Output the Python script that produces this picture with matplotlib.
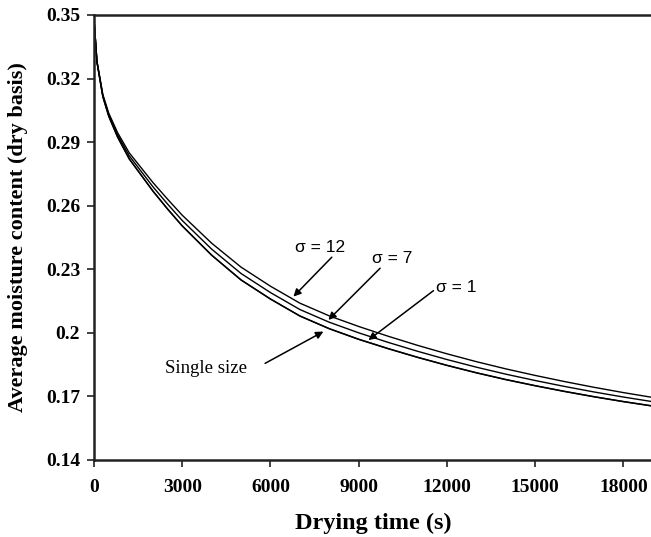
import matplotlib
matplotlib.use("Agg")
import matplotlib.pyplot as plt

# Drying time (s)
time_s = [0, 100, 300, 500, 800, 1200, 2000, 2500, 3000, 4000, 5000, 6000, 7000,
          8000, 9000, 10000, 11000, 12000, 13000, 14000, 15000, 16000, 17000,
          18000, 19000]

# Average moisture content (dry basis) for each particle size distribution
sigma_12 = [0.348, 0.3282, 0.3125, 0.3037, 0.2945, 0.2849, 0.2710, 0.2631, 0.2555,
            0.2423, 0.2310, 0.2220, 0.2140, 0.2080, 0.2030, 0.1984, 0.1941, 0.1901,
            0.1864, 0.1830, 0.1799, 0.1770, 0.1743, 0.1718, 0.1695]
sigma_7 = [0.348, 0.3280, 0.3120, 0.3030, 0.2935, 0.2835, 0.2690, 0.2608, 0.2530,
           0.2395, 0.2280, 0.2190, 0.2110, 0.2050, 0.2000, 0.1955, 0.1913, 0.1874,
           0.1838, 0.1805, 0.1775, 0.1747, 0.1721, 0.1697, 0.1675]
sigma_1 = [0.348, 0.3278, 0.3115, 0.3023, 0.2925, 0.2821, 0.2670, 0.2585, 0.2505,
           0.2367, 0.2250, 0.2160, 0.2080, 0.2020, 0.1970, 0.1926, 0.1885, 0.1847,
           0.1812, 0.1780, 0.1751, 0.1724, 0.1699, 0.1676, 0.1655]
single_size = [0.348, 0.3278, 0.3114, 0.3022, 0.2924, 0.2820, 0.2669, 0.2584, 0.2504,
               0.2366, 0.2249, 0.2159, 0.2079, 0.2019, 0.1969, 0.1925, 0.1884, 0.1846,
               0.1811, 0.1779, 0.1750, 0.1723, 0.1698, 0.1675, 0.1654]

x_ticks = [0, 3000, 6000, 9000, 12000, 15000, 18000]
x_tick_labels = ["0", "3000", "6000", "9000", "12000", "15000", "18000"]
y_ticks = [0.14, 0.17, 0.20, 0.23, 0.26, 0.29, 0.32, 0.35]
y_tick_labels = ["0.14", "0.17", "0.2", "0.23", "0.26", "0.29", "0.32", "0.35"]

serif = ["Liberation Serif", "DejaVu Serif"]
sans = ["Liberation Sans", "DejaVu Sans"]

fig = plt.figure(figsize=(6.51, 5.37), dpi=100)
ax = fig.add_axes([0.1444, 0.1434, 0.8585, 0.8287])

for series in (sigma_12, sigma_7, sigma_1, single_size):
    ax.plot(time_s, series, color="black", lw=1.0)

ax.set_xlim(0, 19000)
ax.set_ylim(0.14, 0.35)
ax.set_xticks(x_ticks)
ax.set_xticklabels(x_tick_labels)
ax.set_yticks(y_ticks)
ax.set_yticklabels(y_tick_labels)

for lab in ax.get_xticklabels() + ax.get_yticklabels():
    lab.set_fontfamily(serif)
    lab.set_fontweight("bold")
    lab.set_fontsize(14)

ax.tick_params(axis="both", direction="out", length=5, width=1.2, colors="#222222",
               labelcolor="black")
ax.tick_params(axis="x", pad=9)
ax.tick_params(axis="y", pad=5)

for side in ("left", "bottom", "top"):
    ax.spines[side].set_linewidth(1.8)
    ax.spines[side].set_color("#222222")
ax.spines["right"].set_visible(False)

ax.set_xlabel("Drying time (s)", fontfamily=serif, fontweight="bold", fontsize=17.5)
ax.set_ylabel("Average moisture content (dry basis)", fontfamily=serif,
              fontweight="bold", fontsize=16)
ax.xaxis.set_label_coords(0.5, -0.118)
ax.yaxis.set_label_coords(-0.118, 0.5)

# Annotation arrows pointing at each curve
arrow_style = dict(arrowstyle="-|>", color="black", lw=1.1, mutation_scale=11,
                   shrinkA=0, shrinkB=0)
arrows = [
    ((8084, 0.2357), (6779, 0.2171)),
    ((9727, 0.2305), (7969, 0.2061)),
    ((11540, 0.2199), (9329, 0.1966)),
    ((5816, 0.1856), (7799, 0.2006)),
]
for start, tip in arrows:
    ax.annotate("", xy=tip, xytext=start, arrowprops=arrow_style)

ax.text(7686, 0.2405, "σ = 12", fontfamily=sans, fontsize=12.5, ha="center", va="center")
ax.text(10135, 0.2349, "σ = 7", fontfamily=sans, fontsize=12.5, ha="center", va="center")
ax.text(12312, 0.2212, "σ = 1", fontfamily=sans, fontsize=12.5, ha="center", va="center")
ax.text(3809, 0.1834, "Single size", fontfamily=serif, fontsize=13.5, ha="center",
        va="center")

fig.savefig("out.png", dpi=100)
